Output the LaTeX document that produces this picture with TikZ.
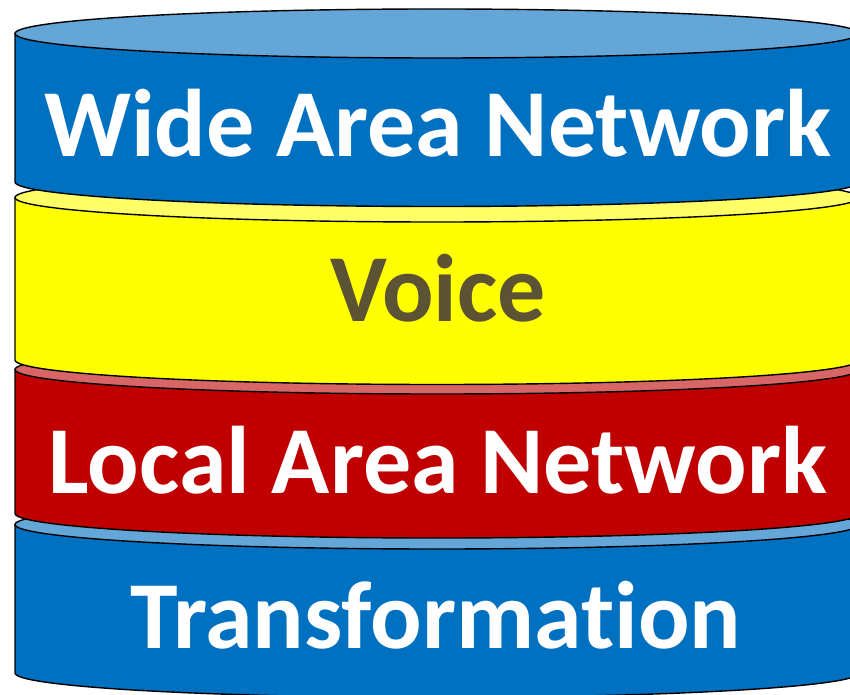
\documentclass[tikz,border=0pt]{standalone}
\usepackage{fontspec}
\setmainfont{Carlito}[Ligatures=NoCommon]
\usepackage{xcolor}
\definecolor{netblue}{RGB}{0,112,192}
\definecolor{netbluelid}{RGB}{101,166,216}
\definecolor{voiceyellow}{RGB}{255,255,0}
\definecolor{voiceyellowlid}{RGB}{255,255,102}
\definecolor{lanred}{RGB}{192,0,0}
\definecolor{lanredlid}{RGB}{216,102,102}
\definecolor{voicetext}{RGB}{92,82,52}

\begin{document}
\begin{tikzpicture}[x=1pt,y=1pt,
    layer/.style={draw=black, line width=1.4pt},
    label/.style={font=\fontsize{96}{100}\selectfont\bfseries, anchor=base, inner sep=0pt}]
        \clip (0,0) rectangle (850,694);
        % cylinders, lowest one first
        \foreach \yt/\yb/\body/\lid in {169.5/21/netblue/netbluelid,
                                         324.5/180.5/lanred/lanredlid,
                                         496.5/334/voiceyellow/voiceyellowlid,
                                         660.5/512/netblue/netbluelid}{
            \draw[layer, fill=\body] (15,\yt) -- (15,\yb) arc (180:360:422 and 24.5) -- (859,\yt) -- cycle;
            \draw[layer, fill=\lid] (437,\yt) ellipse (422 and 24.5);
        }
        
        \node[label, text=white] (wan) at (438,537) {Wide Area Network};
        \node[label, text=voicetext] (voice) at (438,372) {Voice};
        \node[label, text=white] (lan) at (438,201) {Local Area Network};
        \node[label, text=white] (trans) at (436,46) {Transformation};
\end{tikzpicture}
\end{document}
